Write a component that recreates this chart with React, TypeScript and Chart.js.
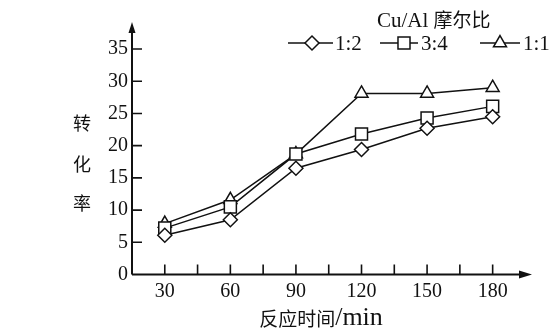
import React, { useEffect, useRef } from 'react';
import { Chart, registerables } from 'chart.js';
import { drawPoint } from 'chart.js/helpers';

Chart.register(...registerables);

// ---- data ----
const timeMin = [30, 60, 90, 120, 150, 180];
const ratio12 = [6.1, 8.5, 16.5, 19.4, 22.7, 24.5];
const ratio34 = [7.2, 10.5, 18.7, 21.8, 24.3, 26.1];
const ratio11 = [7.9, 11.6, 18.7, 28.1, 28.1, 29.0];
const seriesLabels = ['1:2', '3:4', '1:1'];
const xTicks = [30, 60, 90, 120, 150, 180];
const xMinorTicks = [45, 75, 105, 135, 165];
const yTicks = [0, 5, 10, 15, 20, 25, 30, 35];
const legendTitleLatin = 'Cu/Al';
const legendTitleCJK = '摩尔比';
const yTitleChars = ['转', '化', '率'];
const xTitleCJK = '反应时间';
const xTitleUnit = '/min';

const INK = '#111';
const SERIF = '"Liberation Serif", "DejaVu Serif", serif';
const CJK = '"Noto Sans CJK SC", sans-serif';
const pointStyles = ['rectRot', 'rect', 'triangle'];
const pointRadii = [7, 8.5, 7.5];

const decorPlugin = {
  id: 'decor',
  afterDraw(chart: any) {
    const { ctx, chartArea, scales } = chart;
    const xs = scales.x;
    const ys = scales.y;
    const left = chartArea.left;
    const bottom = ys.getPixelForValue(0);
    ctx.save();
    ctx.strokeStyle = INK;
    ctx.fillStyle = INK;
    // axes
    ctx.lineWidth = 2;
    ctx.beginPath();
    ctx.moveTo(left, bottom);
    ctx.lineTo(left, chartArea.top + 4);
    ctx.moveTo(left, bottom);
    ctx.lineTo(chartArea.right - 6, bottom);
    ctx.stroke();
    // arrows
    ctx.beginPath();
    ctx.moveTo(left, chartArea.top);
    ctx.lineTo(left - 3.5, chartArea.top + 11);
    ctx.lineTo(left + 3.5, chartArea.top + 11);
    ctx.closePath();
    ctx.fill();
    ctx.beginPath();
    ctx.moveTo(chartArea.right, bottom);
    ctx.lineTo(chartArea.right - 13, bottom - 4);
    ctx.lineTo(chartArea.right - 13, bottom + 4);
    ctx.closePath();
    ctx.fill();
    // ticks (inward)
    ctx.lineWidth = 1.6;
    ctx.beginPath();
    yTicks.forEach((v) => {
      if (v === 0) return;
      const py = ys.getPixelForValue(v);
      ctx.moveTo(left, py);
      ctx.lineTo(left + 10, py);
    });
    [...xTicks, ...xMinorTicks].forEach((v) => {
      const px = xs.getPixelForValue(v);
      ctx.moveTo(px, bottom);
      ctx.lineTo(px, bottom - 10);
    });
    ctx.stroke();

    // y title (vertical chars)
    ctx.font = '18px ' + CJK;
    ctx.textAlign = 'center';
    ctx.textBaseline = 'middle';
    const yTitleY = [123, 164, 203];
    yTitleChars.forEach((c, i) => ctx.fillText(c, 82, yTitleY[i]));

    // x title
    ctx.textBaseline = 'alphabetic';
    ctx.textAlign = 'left';
    ctx.font = '19px ' + CJK;
    const cjkW = ctx.measureText(xTitleCJK).width;
    ctx.font = '26px ' + SERIF;
    const unitW = ctx.measureText(xTitleUnit).width;
    const startX = 321 - (cjkW + unitW) / 2;
    ctx.font = '19px ' + CJK;
    ctx.fillText(xTitleCJK, startX, 326);
    ctx.font = '26px ' + SERIF;
    ctx.fillText(xTitleUnit, startX + cjkW, 325);

    // legend title
    ctx.font = '21px ' + SERIF;
    const latW = ctx.measureText(legendTitleLatin + ' ').width;
    ctx.fillText(legendTitleLatin + ' ', 377, 27);
    ctx.font = '19px ' + CJK;
    ctx.fillText(legendTitleCJK, 377 + latW, 27);

    // legend items
    const items = [
      { x0: 288, x1: 333, mx: 312, tx: 335 },
      { x0: 380, x1: 418, mx: 404, tx: 421 },
      { x0: 480, x1: 520, mx: 500, tx: 523 },
    ];
    const ly = 43;
    items.forEach((it, i) => {
      ctx.strokeStyle = INK;
      ctx.lineWidth = 1.5;
      ctx.beginPath();
      ctx.moveTo(it.x0, ly);
      ctx.lineTo(it.x1, ly);
      ctx.stroke();
      ctx.fillStyle = '#fff';
      ctx.strokeStyle = INK;
      drawPoint(ctx, { pointStyle: pointStyles[i], radius: pointRadii[i], borderWidth: 1.5, rotation: 0 } as any, it.mx, ly);
      ctx.fillStyle = INK;
      ctx.font = '21px ' + SERIF;
      ctx.textBaseline = 'middle';
      ctx.fillText(seriesLabels[i], it.tx, ly + 1);
      ctx.textBaseline = 'alphabetic';
    });
    ctx.restore();
  },
};

export default function App() {
  const ref = useRef<HTMLCanvasElement | null>(null);
  useEffect(() => {
    document.body.style.margin = '0';
    const series = [ratio12, ratio34, ratio11];
    const chart = new Chart(ref.current as HTMLCanvasElement, {
      type: 'line',
      data: {
        datasets: series.map((s, i) => ({
          label: seriesLabels[i],
          data: timeMin.map((t, j) => ({ x: t, y: s[j] })),
          borderColor: INK,
          borderWidth: 1.5,
          pointStyle: pointStyles[i] as any,
          pointRadius: pointRadii[i],
          pointBackgroundColor: '#fff',
          pointBorderColor: INK,
          pointBorderWidth: 1.5,
          tension: 0,
          fill: false,
        })),
      },
      options: {
        animation: false,
        responsive: false,
        devicePixelRatio: 1,
        layout: { padding: { left: 0, top: 22, right: 24, bottom: 0 } },
        plugins: { legend: { display: false }, tooltip: { enabled: false }, title: { display: false } },
        scales: {
          x: {
            type: 'linear',
            min: 15,
            max: 198,
            grid: { display: false, drawTicks: false },
            border: { display: false },
            afterBuildTicks: (s: any) => { s.ticks = xTicks.map((v) => ({ value: v })); },
            afterFit: (s: any) => { s.height = 54.5; },
            ticks: { color: INK, padding: 5, font: { family: SERIF, size: 20 }, maxRotation: 0, autoSkip: false },
          },
          y: {
            min: 0,
            max: 39.2,
            grid: { display: false, drawTicks: false },
            border: { display: false },
            afterBuildTicks: (s: any) => { s.ticks = yTicks.map((v) => ({ value: v })); },
            afterFit: (s: any) => { s.width = 132; },
            ticks: { color: INK, padding: 4, font: { family: SERIF, size: 20 }, autoSkip: false },
          },
        },
      },
      plugins: [decorPlugin],
    });
    return () => chart.destroy();
  }, []);
  return (
    <div style={{ width: 556, height: 329, background: '#fff' }}>
      <canvas ref={ref} width={556} height={329} style={{ display: 'block' }} />
    </div>
  );
}
